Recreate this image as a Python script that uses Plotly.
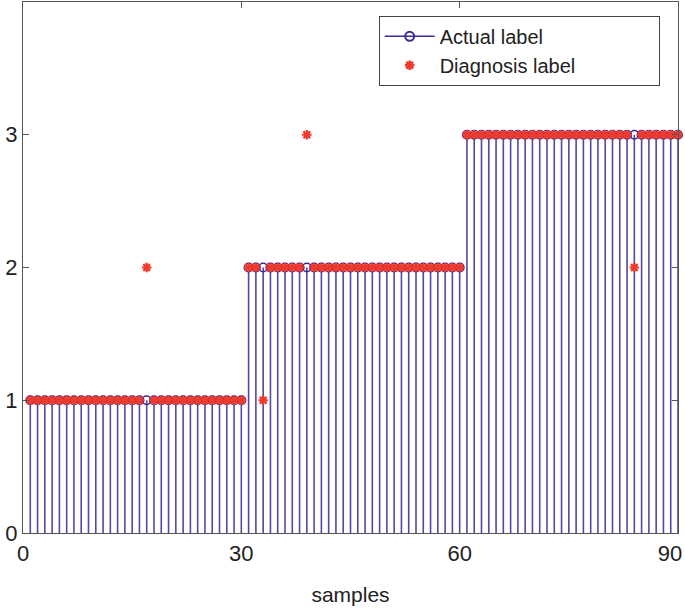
import plotly.graph_objects as go

samples = [1, 2, 3, 4, 5, 6, 7, 8, 9, 10, 11, 12, 13, 14, 15, 16, 17, 18, 19, 20,
           21, 22, 23, 24, 25, 26, 27, 28, 29, 30, 31, 32, 33, 34, 35, 36, 37, 38, 39, 40,
           41, 42, 43, 44, 45, 46, 47, 48, 49, 50, 51, 52, 53, 54, 55, 56, 57, 58, 59, 60,
           61, 62, 63, 64, 65, 66, 67, 68, 69, 70, 71, 72, 73, 74, 75, 76, 77, 78, 79, 80,
           81, 82, 83, 84, 85, 86, 87, 88, 89, 90]

actual_label = [1, 1, 1, 1, 1, 1, 1, 1, 1, 1, 1, 1, 1, 1, 1, 1, 1, 1, 1, 1,
                1, 1, 1, 1, 1, 1, 1, 1, 1, 1, 2, 2, 2, 2, 2, 2, 2, 2, 2, 2,
                2, 2, 2, 2, 2, 2, 2, 2, 2, 2, 2, 2, 2, 2, 2, 2, 2, 2, 2, 2,
                3, 3, 3, 3, 3, 3, 3, 3, 3, 3, 3, 3, 3, 3, 3, 3, 3, 3, 3, 3,
                3, 3, 3, 3, 3, 3, 3, 3, 3, 3]

diagnosis_label = [1, 1, 1, 1, 1, 1, 1, 1, 1, 1, 1, 1, 1, 1, 1, 1, 2, 1, 1, 1,
                   1, 1, 1, 1, 1, 1, 1, 1, 1, 1, 2, 2, 1, 2, 2, 2, 2, 2, 3, 2,
                   2, 2, 2, 2, 2, 2, 2, 2, 2, 2, 2, 2, 2, 2, 2, 2, 2, 2, 2, 2,
                   3, 3, 3, 3, 3, 3, 3, 3, 3, 3, 3, 3, 3, 3, 3, 3, 3, 3, 3, 3,
                   3, 3, 3, 2, 3, 3, 3, 3, 3, 3]

x_ticks = [0, 30, 60, 90]
x_tick_text = ["0", "30", "60", ""]
x_last_tick = [90]
x_last_text = ["90"]
y_ticks = [0, 1, 2, 3]
y_tick_text = ["0", "1", "2", "3"]

STEM = "#5646a6"
EDGE = "#3a2a92"
RED = "#ee3a2c"
FONT = "Liberation Sans, Arial, sans-serif"
PAD = "\u00a0" * 14

fig = go.Figure()

# stems + open circles (actual labels)
fig.add_trace(go.Scatter(
    x=samples, y=actual_label, mode="markers", showlegend=False,
    marker=dict(symbol="circle-open", size=8.5, color=EDGE, line=dict(width=1.6, color=EDGE)),
    error_y=dict(type="data", symmetric=False, array=[0] * len(actual_label),
                 arrayminus=actual_label, width=0, thickness=1.6, color=STEM),
    cliponaxis=False,
))

# diagnosis labels (red asterisks)
fig.add_trace(go.Scatter(
    x=samples, y=diagnosis_label, mode="markers", showlegend=False,
    marker=dict(symbol="asterisk-open", size=8, color=RED, line=dict(width=2.2, color=RED)),
    cliponaxis=False,
))

# legend entries
fig.add_trace(go.Scatter(
    x=[None], y=[None], mode="lines+markers", name="Actual label" + PAD,
    line=dict(color=EDGE, width=1.6), xaxis="x2",
    marker=dict(symbol="circle-open", size=9, color=EDGE, line=dict(width=2, color=EDGE)),
))
fig.add_trace(go.Scatter(
    x=[None], y=[None], mode="markers", name="Diagnosis label" + PAD, xaxis="x2",
    marker=dict(symbol="asterisk-open", size=8, color=RED, line=dict(width=2.5, color=RED)),
))

axis_common = dict(
    showgrid=False, zeroline=False, showline=True, linecolor="#555555", linewidth=1.2,
    mirror="ticks", ticks="inside", ticklen=6, tickcolor="#555555", tickwidth=1,
    tickfont=dict(family=FONT, size=22, color="#222222"),
    automargin=False, ticklabeloverflow="allow",
)

fig.update_layout(
    width=685, height=612,
    margin=dict(l=23, r=7, t=2, b=79),
    paper_bgcolor="white", plot_bgcolor="white",
    font=dict(family=FONT, color="#222222"),
    xaxis=dict(range=[0, 90], tickvals=x_ticks, ticktext=x_tick_text,
               title=dict(text="samples", font=dict(family=FONT, size=21, color="#222222"), standoff=22),
               **axis_common),
    xaxis2=dict(range=[0, 90], overlaying="x", anchor="y", side="bottom",
                tickvals=x_last_tick, ticktext=x_last_text, ticklabelshift=-8,
                showgrid=False, zeroline=False, showline=True, linecolor="rgba(0,0,0,0)",
                linewidth=1.2, ticks="inside", ticklen=6, tickcolor="rgba(0,0,0,0)",
                tickfont=dict(family=FONT, size=22, color="#222222"), automargin=False),
    yaxis=dict(range=[0, 4], tickvals=y_ticks, ticktext=y_tick_text,
               **axis_common),
    legend=dict(x=0.543, y=0.974, xanchor="left", yanchor="top",
                bordercolor="#444444", borderwidth=1, bgcolor="white",
                font=dict(family=FONT, size=20, color="#222222"),
                itemwidth=50, tracegroupgap=0),
)

fig.write_html("out.html", config={"displayModeBar": False},
               post_script="document.body.style.margin='0';document.body.style.padding='0';")
